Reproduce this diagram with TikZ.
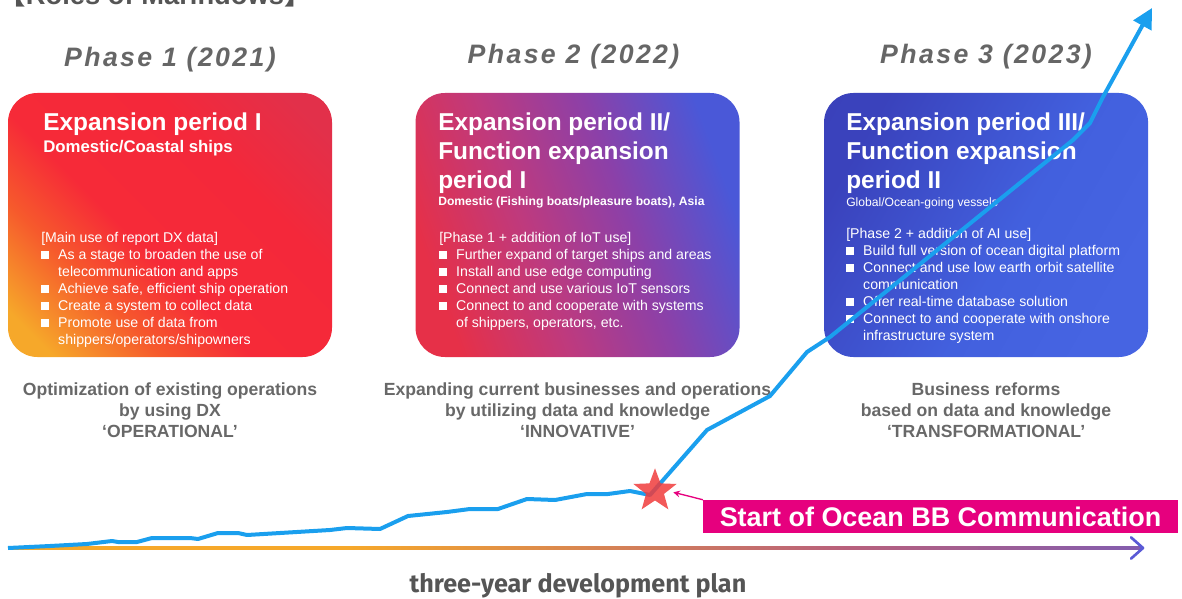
\documentclass[tikz,border=0pt]{standalone}
\usepackage{fontspec}
\setmainfont{Liberation Sans}
\newfontfamily\phasefont[LetterSpace=9]{Liberation Sans}
\newfontfamily\planfont{Fira Sans}
\newfontfamily\cjk{Noto Sans CJK JP}
\usetikzlibrary{positioning}
\usetikzlibrary{shapes.geometric}
\usetikzlibrary{arrows.meta}

\definecolor{phasegray}{HTML}{666666}
\definecolor{capgray}{HTML}{686868}
\definecolor{plangray}{HTML}{555555}
\definecolor{growthblue}{HTML}{1A9FEE}
\definecolor{starred}{HTML}{F03C3C}
\definecolor{oceanpink}{HTML}{E6007E}
\definecolor{axorange}{HTML}{F6A82A}
\definecolor{axmauve}{HTML}{B8607C}
\definecolor{axblue}{HTML}{5A5AD6}

\pgfdeclarehorizontalshading{boxone}{100bp}{color(0bp)=(axorange); color(20bp)=(axorange);
  color(33bp)=({rgb,255:red,246;green,90;blue,44}); color(44bp)=({rgb,255:red,246;green,42;blue,56}); color(64bp)=({rgb,255:red,244;green,40;blue,58});
  color(80bp)=({rgb,255:red,226;green,48;blue,74}); color(100bp)=({rgb,255:red,226;green,48;blue,74})}
\pgfdeclarehorizontalshading{boxtwo}{100bp}{color(0bp)=({rgb,255:red,232;green,48;blue,70}); color(25bp)=({rgb,255:red,230;green,48;blue,72});
  color(42bp)=({rgb,255:red,190;green,58;blue,126}); color(58bp)=({rgb,255:red,140;green,64;blue,168});
  color(75bp)=({rgb,255:red,74;green,88;blue,216}); color(100bp)=({rgb,255:red,74;green,88;blue,216})}
\pgfdeclarehorizontalshading{boxthree}{100bp}{color(0bp)=({rgb,255:red,58;green,64;blue,186}); color(25bp)=({rgb,255:red,58;green,66;blue,188});
  color(55bp)=({rgb,255:red,66;green,96;blue,222}); color(75bp)=({rgb,255:red,70;green,100;blue,226}); color(100bp)=({rgb,255:red,70;green,100;blue,226})}
\pgfdeclarehorizontalshading{axisgrad}{100bp}{color(0bp)=(axorange); color(40bp)=(axorange);
  color(62bp)=(axmauve); color(85bp)=(axblue); color(100bp)=(axblue)}

\newcommand{\bul}{\makebox[1.2em][l]{\rule[0.04em]{0.58em}{0.58em}}}
\newcommand{\cont}{\hspace*{1.2em}}

\tikzset{
  period/.style={rectangle, rounded corners=22pt, minimum width=243pt, minimum height=198pt, inner sep=0pt},
  phase/.style={text=phasegray, inner sep=0pt, font=\phasefont\bfseries\itshape\fontsize{20}{22}\selectfont},
  ptitle/.style={text=white, align=left, inner sep=0pt, font=\bfseries\fontsize{18.3}{21.75}\selectfont},
  psub/.style={text=white, inner sep=0pt, font=\bfseries\fontsize{12.6}{14}\selectfont},
  pbody/.style={text=white, align=left, inner sep=0pt, font=\fontsize{10.6}{12.75}\selectfont},
  result/.style={text=capgray, align=center, inner sep=0pt, font=\bfseries\fontsize{13.2}{15.75}\selectfont},
  growth/.style={draw=growthblue, line width=3pt, line join=round, -{Triangle[length=15pt,width=15pt]}},
}

\begin{document}
\begin{tikzpicture}[x=0.75pt, y=-0.75pt]
  \useasboundingbox (0,0) rectangle (1182,599);

  % heading, cut at the top
  \node[text=plangray, anchor=base, inner sep=0pt, font=\bfseries\fontsize{20.5}{22}\selectfont] (heading) at (155,5) {{\cjk 【}Roles of Marindows{\cjk 】}};

  % the three periods
  \node[period, shade, shading=boxone, shading angle=45] (box1) at (170,225) {};
  \node[period, shade, shading=boxtwo, shading angle=20, right=62.25pt of box1] (box2) {};
  \node[period, shade, shading=boxthree, shading angle=-30, right=63pt of box2] (box3) {};

  \node[phase, above=15.5pt of box1] (ph1) {Phase 1 (2021)};
  \node[phase, above=17.5pt of box2, xshift=-3pt] (ph2) {Phase 2 (2022)};
  \node[phase, above=17.5pt of box3] (ph3) {Phase 3 (2023)};

  \node[ptitle, anchor=base west] (title1) at (43,131) {Expansion period I};
  \node[psub, anchor=base west] (sub1) at (43,153) {Domestic/Coastal ships};
  \node[pbody, anchor=north west] (body1) at (41,232) {[Main use of report DX data]\\
    \bul As a stage to broaden the use of\\
    \cont telecommunication and apps\\
    \bul Achieve safe, efficient ship operation\\
    \bul Create a system to collect data\\
    \bul Promote use of data from\\
    \cont shippers/operators/shipowners};

  \node[ptitle, anchor=north west] (title2) at (438,112.5) {Expansion period II/\\Function expansion\\period I};
  \node[psub, anchor=base west, font=\bfseries\fontsize{9.1}{10}\selectfont] (sub2) at (438,206) {Domestic (Fishing boats/pleasure boats), Asia};
  \node[pbody, anchor=north west] (body2) at (439,232) {[Phase 1 + addition of IoT use]\\
    \bul Further expand of target ships and areas\\
    \bul Install and use edge computing\\
    \bul Connect and use various IoT sensors\\
    \bul Connect to and cooperate with systems\\
    \cont of shippers, operators, etc.};

  \node[ptitle, anchor=north west] (title3) at (846,112.5) {Expansion period III/\\Function expansion\\period II};
  \node[psub, anchor=base west, font=\fontsize{9.1}{10}\selectfont] (sub3) at (846,207) {Global/Ocean-going vessels};
  \node[pbody, anchor=north west] (body3) at (846,228) {[Phase 2 + addition of AI use]\\
    \bul Build full version of ocean digital platform\\
    \bul Connect and use low earth orbit satellite\\
    \cont communication\\
    \bul Offer real-time database solution\\
    \bul Connect to and cooperate with onshore\\
    \cont infrastructure system};

  % what each phase brings
  \node[result, below=18.75pt of box1] (cap1) {Optimization of existing operations\\by using DX\\‘OPERATIONAL’};
  \node[result, below=18.75pt of box2] (cap2) {Expanding current businesses and operations\\by utilizing data and knowledge\\‘INNOVATIVE’};
  \node[result, below=18.75pt of box3] (cap3) {Business reforms\\based on data and knowledge\\‘TRANSFORMATIONAL’};

  % time axis
  \coordinate (ax0) at (8,548);
  \coordinate (ax1) at (1143,548);
  \shade[shading=axisgrad] ([yshift=-1.1pt]ax0) rectangle ([yshift=1.1pt,xshift=-1pt]ax1);
  \draw[axblue, line width=2pt, line cap=round, line join=round] ([shift={(-9pt,8pt)}]ax1) -- (ax1) -- ([shift={(-9pt,-8pt)}]ax1);
  \node[text=plangray, font=\planfont\bfseries\fontsize{18.9}{20}\selectfont] (plan) at (578,586) {three-year development plan};

  % growth
  \draw[growth] (ax0) -- (50,546) -- (87,544) -- (112,541) -- (118,542) -- (137,542) -- (152,538)
    -- (190,538) -- (198,539) -- (218,533) -- (238,533) -- (247,535) -- (330,530) -- (347,528)
    -- (380,529) -- (408,516) -- (447,512) -- (470,509) -- (498,509) -- (527,499) -- (555,500)
    -- (587,494) -- (608,494) -- (630,491) -- (650,495) -- (707,430) -- (770,396) -- (807,352)
    -- (830,337) -- (1073,140) -- (1090,123) -- (1103,97) -- (1152,8);

  \node[star, star points=5, star point ratio=2.4, fill=starred, fill opacity=0.85, minimum size=34pt, inner sep=0pt] (start) at (655,491) {};

  \node[fill=oceanpink, text=white, minimum width=356pt, minimum height=24.75pt, inner sep=0pt,
    font=\bfseries\fontsize{20.2}{22}\selectfont] (ocean) at (940.5,516.5) {Start of Ocean BB Communication};
  \draw[oceanpink, line width=1pt, -{Stealth[length=5pt,width=5pt]}, shorten >=4pt] (ocean.north west) -- (start.east);
\end{tikzpicture}
\end{document}
